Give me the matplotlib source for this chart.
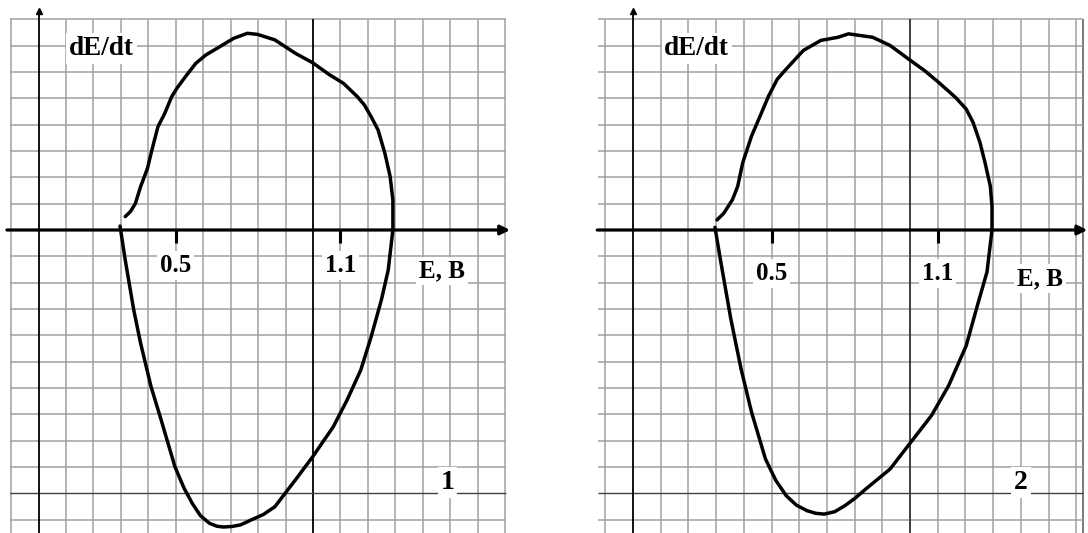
import matplotlib.pyplot as plt
import numpy as np

plt.rcParams['font.family'] = ['Liberation Serif', 'DejaVu Serif']

# Loop 1: E (V) against dE/dt (grid cells), upper and lower branches
p1_top_x = [0.316, 0.335, 0.353, 0.372, 0.397, 0.410, 0.435, 0.460, 0.485, 0.504,
            0.535, 0.573, 0.610, 0.660, 0.711, 0.761, 0.798, 0.861, 0.936, 0.999,
            1.061, 1.111, 1.162, 1.187, 1.212, 1.237, 1.262, 1.281, 1.291, 1.291]
p1_top_y = [0.51, 0.70, 1.01, 1.65, 2.34, 2.91, 3.92, 4.43, 5.06, 5.38,
            5.82, 6.33, 6.65, 6.96, 7.28, 7.47, 7.43, 7.22, 6.71, 6.35,
            5.89, 5.57, 5.06, 4.75, 4.30, 3.80, 2.91, 2.03, 1.14, 0.0]
p1_bot_x = [0.297, 0.316, 0.347, 0.372, 0.410, 0.447, 0.497, 0.530, 0.560, 0.590,
            0.623, 0.650, 0.673, 0.705, 0.736, 0.773, 0.820, 0.861, 0.936, 0.999,
            1.074, 1.124, 1.174, 1.212, 1.249, 1.274, 1.291]
p1_bot_y = [0.15, -1.14, -3.04, -4.30, -5.95, -7.22, -8.99, -9.80, -10.38, -10.85,
            -11.14, -11.25, -11.28, -11.26, -11.20, -11.02, -10.80, -10.51, -9.49, -8.61,
            -7.47, -6.46, -5.32, -4.05, -2.66, -1.52, 0.0]

# Loop 2
p2_top_x = [0.303, 0.328, 0.359, 0.378, 0.396, 0.428, 0.459, 0.490, 0.521, 0.553,
            0.615, 0.678, 0.740, 0.778, 0.865, 0.928, 1.003, 1.053, 1.103, 1.165,
            1.203, 1.228, 1.253, 1.271, 1.290, 1.296, 1.296]
p2_top_y = [0.38, 0.64, 1.15, 1.66, 2.55, 3.57, 4.33, 5.10, 5.73, 6.11,
            6.82, 7.20, 7.32, 7.45, 7.32, 7.01, 6.43, 6.05, 5.61, 5.03,
            4.59, 4.08, 3.31, 2.55, 1.66, 0.89, 0.0]
p2_bot_x = [0.296, 0.315, 0.353, 0.390, 0.428, 0.478, 0.515, 0.553, 0.590, 0.628,
            0.660, 0.690, 0.728, 0.765, 0.800, 0.840, 0.928, 1.003, 1.078, 1.140,
            1.203, 1.240, 1.278, 1.296]
p2_bot_y = [0.10, -1.09, -3.37, -5.27, -6.92, -8.69, -9.50, -10.09, -10.45, -10.66,
            -10.76, -10.79, -10.70, -10.47, -10.20, -9.84, -9.08, -8.06, -7.04, -5.90,
            -4.39, -2.99, -1.59, 0.0]

tick_values = [0.5, 1.1]
tick_labels = ['0.5', '1.1']
panel_labels = ['1', '2']

W, H = 1088, 533
fig = plt.figure(figsize=(W / 100, H / 100), dpi=100)


def make_panel(left, right, x0, sx, y0, sy):
    # x0/y0: pixel of the origin, sx: px per volt, sy: px per grid cell
    ax = fig.add_axes([left / W, 0, (right - left) / W, 1])
    ax.set_xlim((left - x0) / sx, (right - x0) / sx)
    ax.set_ylim((y0 - H) / sy, y0 / sy)
    ax.axis('off')
    return ax


def draw_panel(ax, gx0, gx1, vlines, extra_edge, top_x, top_y, bot_x, bot_y,
               label, lab_y, num_pos, axis_x0, axis_x1, dark_col):
    ybot = ax.get_ylim()[0]
    grid_kw = dict(color='#a0a0a0', lw=1.1, zorder=1)
    for v in vlines:
        if abs(v) < 1e-6:
            continue
        if abs(v - 1.0) < 1e-6:
            ax.vlines(v, ybot, 8, color=dark_col, lw=1.3, zorder=2)
        else:
            ax.vlines(v, ybot, 8, **grid_kw)
    if extra_edge is not None:
        ax.vlines(extra_edge, ybot, 8, color='#707070', lw=1.3, zorder=1)
    for h in range(-11, 9):
        if h == 0:
            continue
        if h == -10:
            ax.hlines(h, gx0, gx1, color='#404040', lw=1.0, zorder=2)
        else:
            ax.hlines(h, gx0, gx1, **grid_kw)

    # axes
    ax.vlines(0, ybot, 8.3, color='black', lw=1.3, zorder=3)
    ax.plot([0], [8.3], marker='^', color='black', ms=4, zorder=3)
    ax.annotate('', xy=(axis_x1, 0), xytext=(axis_x0, 0), annotation_clip=False,
                arrowprops=dict(arrowstyle='-|>', lw=2.3, color='black',
                                mutation_scale=14, shrinkA=0, shrinkB=0),
                zorder=3)
    for t in tick_values:
        ax.vlines(t, -0.5, 0, color='black', lw=2.2, zorder=3)

    txt = dict(fontweight='bold', ha='center', va='center', zorder=4,
               bbox=dict(facecolor='white', edgecolor='none', pad=2))
    for t, s in zip(tick_values, tick_labels):
        ax.text(t, lab_y, s, fontsize=18, **txt)
    ax.text(1.47, lab_y - 0.2, 'E, B', fontsize=18, **txt)
    ax.text(0.23, 6.9, 'dE/dt', fontsize=19.5, **txt)
    ax.text(num_pos, -9.6, label, fontsize=20, **txt)

    ax.plot(top_x, top_y, color='black', lw=2.5, zorder=5,
            solid_capstyle='round', solid_joinstyle='round')
    ax.plot(bot_x, bot_y, color='black', lw=2.5, zorder=5,
            solid_capstyle='round', solid_joinstyle='round')


ax1 = make_panel(0, 560, 38.5, 274.5, 230, 26.33)
draw_panel(ax1, -0.104, 1.703, np.round(np.arange(-0.1, 1.75, 0.1), 2), None,
           p1_top_x, p1_top_y, p1_bot_x, p1_bot_y, panel_labels[0], -1.35, 1.49,
           -0.115, 1.718, 'black')

ax2 = make_panel(560, 1088, 633, 277, 230, 26.33)
draw_panel(ax2, -0.126, 1.625, np.round(np.arange(-0.1, 1.65, 0.1), 2), 1.625,
           p2_top_x, p2_top_y, p2_bot_x, p2_bot_y, panel_labels[1], -1.65, 1.40,
           -0.129, 1.64, '#303030')

fig.savefig('out.png', dpi=100)
